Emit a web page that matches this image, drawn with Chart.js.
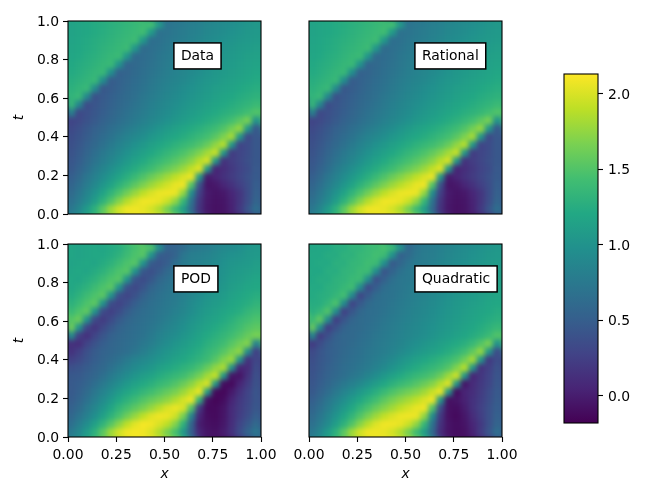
<!DOCTYPE html>
<html><head><meta charset="utf-8">
<script src="https://cdn.jsdelivr.net/npm/chart.js@4"></script>
<style>html,body{margin:0;padding:0;background:#fff;width:664px;height:498px;overflow:hidden}
canvas{position:absolute;left:0;top:0}</style></head><body>
<script>
// Field values in hundredths, rows from t≈1 (top) to t≈0 (bottom), columns x≈0 to x≈1
const dataValues = [
[115,118,120,123,125,128,130,133,136,140,145,110,70,73,76,80,83,87,90,93,96,99,102,105],
[115,118,120,123,126,129,132,135,138,142,108,68,71,74,78,82,85,89,92,95,98,101,104,106],
[116,119,122,125,128,131,134,137,141,105,65,68,72,76,80,84,88,92,95,98,101,104,106,108],
[117,120,123,126,130,133,136,140,103,62,66,70,74,78,82,86,90,94,98,101,104,107,109,111],
[118,121,125,128,132,136,139,102,60,63,67,72,76,80,84,88,92,96,100,103,106,109,112,114],
[120,124,127,131,135,138,100,56,60,64,69,73,78,82,86,90,94,98,102,105,108,111,114,116],
[122,126,130,134,137,97,52,56,61,66,71,75,80,84,88,92,96,100,104,107,110,113,116,119],
[125,129,133,137,95,48,53,58,63,68,73,78,82,86,90,95,99,103,106,110,113,116,119,122],
[128,133,137,93,44,49,54,60,65,70,75,80,85,89,94,98,102,106,110,113,116,120,123,126],
[132,137,91,40,46,51,57,62,67,73,78,83,88,92,97,101,105,109,113,117,120,124,127,130],
[137,89,36,42,48,53,59,64,70,75,81,86,91,96,100,105,109,113,117,121,125,129,133,138],
[88,32,38,44,50,56,62,68,73,78,84,89,94,99,104,109,113,118,122,127,131,136,143,150],
[28,33,40,46,53,59,65,71,76,82,88,93,98,104,109,114,119,124,129,136,144,154,166,100],
[32,38,45,52,58,65,71,77,83,89,95,101,107,113,118,123,128,134,141,150,163,176,105,45],
[35,41,48,56,63,70,77,84,90,96,103,109,115,120,125,131,137,144,153,167,182,105,33,45],
[37,44,52,60,68,76,84,91,98,105,112,118,124,130,136,142,149,159,174,188,105,28,35,45],
[40,47,56,65,74,82,90,98,106,113,120,127,134,141,148,157,168,181,194,105,22,30,36,45],
[42,50,60,70,79,88,97,106,114,122,130,137,145,152,161,172,187,199,105,15,23,30,37,45],
[45,54,65,76,86,96,106,115,124,133,141,150,158,167,178,191,203,105,5,12,20,28,35,46],
[50,60,72,83,94,105,116,127,138,149,160,170,180,190,200,207,105,-2,5,14,22,30,38,47],
[55,66,78,90,103,116,130,143,155,167,178,188,197,205,208,150,40,-5,-3,6,15,25,36,50],
[60,72,86,100,116,132,148,163,177,190,200,206,208,206,175,95,25,-2,-6,-3,6,18,35,52],
[66,78,93,110,130,150,170,187,200,208,208,205,195,175,135,70,18,-3,-7,-5,4,18,36,56],
[73,88,108,130,155,180,198,208,208,205,198,185,165,140,110,60,15,-4,-8,-6,3,20,42,65]
];
// The Rational panel cannot be told apart from the Data panel at this reading resolution
const rationalValues = dataValues;
const podValues = [
[118,116,118,120,118,122,125,135,145,152,150,100,55,55,62,72,75,78,85,90,92,96,102,105],
[118,116,118,120,120,124,130,140,148,152,100,50,48,55,72,80,82,85,90,95,98,100,104,106],
[116,118,120,118,124,130,140,148,152,100,48,42,50,65,76,82,84,88,92,98,102,104,106,110],
[118,120,118,124,130,140,148,152,100,45,38,48,60,68,76,80,85,90,95,100,105,108,110,113],
[120,118,124,130,140,148,152,100,42,35,45,58,66,72,76,82,88,92,96,102,108,110,114,118],
[118,124,130,140,148,154,100,40,32,42,55,64,70,74,80,85,90,96,100,104,110,114,118,120],
[122,130,140,148,154,100,38,30,40,52,62,68,72,76,82,88,94,100,104,108,114,118,122,126],
[128,138,148,155,100,36,28,38,50,60,66,70,74,78,85,92,98,104,108,112,118,122,126,132],
[136,148,156,100,34,25,36,48,58,64,68,72,76,82,88,95,102,108,112,118,122,126,134,140],
[150,160,100,32,22,34,46,56,62,66,70,74,80,86,93,100,106,112,116,122,128,136,142,148],
[165,100,30,18,32,44,54,60,64,68,72,78,85,90,97,104,110,116,122,128,134,142,150,155],
[100,25,14,30,42,52,58,62,66,70,76,84,90,95,102,108,115,122,128,134,142,150,158,165],
[15,12,28,40,50,56,60,64,68,74,80,88,95,102,108,114,120,128,134,142,152,162,170,85],
[14,25,38,48,54,58,62,66,72,80,88,96,102,108,114,120,126,134,142,152,164,174,95,25],
[25,32,42,50,56,62,68,76,84,90,96,102,108,115,120,126,132,140,152,168,178,100,15,30],
[38,42,48,54,60,68,76,84,92,98,104,112,118,124,130,136,146,158,174,184,100,5,10,35],
[45,46,52,58,66,76,85,94,102,110,116,124,130,136,142,152,164,180,192,105,-5,-5,15,38],
[46,50,56,65,75,86,96,106,114,122,128,136,142,150,160,172,188,200,105,-10,-12,5,22,40],
[46,52,62,73,85,96,108,118,126,134,142,150,158,166,178,192,206,110,-12,-14,-2,15,28,42],
[48,56,68,80,93,106,120,130,140,150,158,166,174,185,198,208,130,-8,-15,-10,5,20,30,42],
[52,62,75,88,102,118,133,145,155,165,176,188,200,206,200,150,20,-12,-12,-6,10,22,32,44],
[58,70,82,97,113,130,146,162,176,190,202,208,206,196,165,85,5,-10,-12,-5,10,24,36,50],
[65,80,95,113,132,152,172,190,203,210,208,200,190,170,130,55,0,-8,-10,-4,12,30,45,60],
[75,90,108,130,155,180,198,208,210,208,200,185,165,145,105,50,5,-5,-8,0,15,35,55,72]
];
const quadraticValues = [
[118,120,120,126,126,132,132,138,140,146,140,105,58,70,76,78,82,86,90,93,96,99,102,105],
[120,120,124,124,130,130,136,138,144,140,100,52,62,72,78,80,84,88,92,95,98,101,104,106],
[120,122,122,128,128,134,136,142,140,98,46,58,70,76,78,82,86,90,94,97,100,103,106,108],
[120,120,126,126,132,134,140,140,96,42,55,68,74,76,80,84,88,92,95,99,102,105,108,110],
[120,124,124,130,132,138,140,95,38,52,66,72,74,78,82,86,90,94,97,101,104,107,110,112],
[122,122,128,130,136,142,94,34,50,64,70,72,76,80,84,88,92,96,99,103,106,109,112,115],
[122,126,128,134,144,94,30,48,62,68,70,74,78,82,86,90,94,98,102,105,108,111,115,118],
[124,126,134,148,94,28,46,60,66,68,72,76,80,84,88,92,96,100,104,108,111,114,118,120],
[126,134,150,95,26,44,58,64,66,70,74,78,82,86,90,94,98,102,106,110,114,117,120,124],
[136,156,95,24,42,56,62,64,68,72,76,80,84,88,92,96,100,104,108,112,116,120,124,128],
[162,95,24,40,54,60,62,66,70,74,78,82,86,90,94,98,102,106,110,115,119,124,130,136],
[95,22,38,52,58,60,64,68,72,76,80,84,88,92,96,100,105,109,114,118,124,130,138,150],
[20,36,48,54,58,62,66,70,74,78,82,86,92,97,102,107,112,117,122,128,137,150,166,100],
[32,42,50,54,60,64,68,72,76,80,85,91,97,103,108,113,119,125,132,142,156,176,105,35],
[36,44,50,56,62,66,70,74,79,85,92,99,106,113,119,125,131,138,147,162,182,105,20,35],
[38,45,52,58,64,68,72,77,84,92,100,108,116,123,129,135,142,151,168,188,105,15,25,40],
[40,47,54,60,66,72,78,86,95,105,114,122,129,136,142,149,160,178,196,105,5,18,28,42],
[42,50,58,66,74,82,90,100,110,120,129,137,144,151,160,170,186,202,105,-5,10,20,30,44],
[45,54,64,74,85,95,106,116,127,138,148,156,163,170,180,194,206,105,-10,5,12,22,34,46],
[50,60,72,84,96,108,120,131,143,155,165,174,182,190,200,208,105,-8,-5,3,14,24,36,48],
[55,66,78,92,106,120,134,147,159,170,180,190,198,205,208,150,35,-8,-10,0,14,26,38,50],
[60,72,86,101,117,133,150,165,179,191,200,206,208,206,175,95,20,-8,-12,-4,10,24,38,52],
[66,78,93,111,130,150,171,188,201,208,208,205,195,175,135,70,15,-6,-10,-6,6,20,38,56],
[73,88,108,130,155,180,198,208,208,205,198,185,165,140,110,60,10,-6,-10,-8,4,22,42,65]
];
const xTickValues = [0,0.25,0.5,0.75,1];
const tTickValues = [0,0.2,0.4,0.6,0.8,1];
const barTickValues = [0,0.5,1,1.5,2];
const colorMin = -0.18, colorMax = 2.13;
const viridisStops = ['#440154','#482576','#414487','#35608d','#2a788e','#21908d','#22a884','#42be71','#7ad151','#bddf26','#fde725'];

const rgbStops = viridisStops.map(h=>[1,3,5].map(i=>parseInt(h.substr(i,2),16)));
function viridis(v){
  let f=Math.max(0,Math.min(1,(v-colorMin)/(colorMax-colorMin)))*10;
  const i=Math.min(9,Math.floor(f)); f-=i;
  const a=rgbStops[i],b=rgbStops[i+1];
  return `rgb(${a.map((c,k)=>Math.round(c+(b[k]-c)*f)).join(',')})`;
}
const W=664,H=498,FONT='"DejaVu Sans"',FS=13.9;
function addCanvas(){const c=document.createElement('canvas');c.style.width=W+'px';c.style.height=H+'px';c.width=W;c.height=H;document.body.appendChild(c);return c;}

const smoothCells={id:'smoothCells',afterDatasetsDraw(chart){
  const a=chart.chartArea,r=chart.currentDevicePixelRatio,p=12,w=a.right-a.left,h=a.bottom-a.top;
  const off=document.createElement('canvas');off.width=(w+2*p)*r;off.height=(h+2*p)*r;
  const o=off.getContext('2d');
  o.drawImage(chart.canvas,a.left*r,a.top*r,w*r,h*r,0,0,off.width,off.height);
  o.drawImage(chart.canvas,a.left*r,a.top*r,w*r,h*r,p*r,p*r,w*r,h*r);
  const ctx=chart.ctx;ctx.save();ctx.beginPath();ctx.rect(a.left,a.top,w,h);ctx.clip();
  ctx.filter='blur(2.8px)';
  ctx.drawImage(off,a.left-p,a.top-p,w+2*p,h+2*p);
  ctx.restore();
}};
const frame={id:'frame',afterDraw(chart){
  const a=chart.chartArea,ctx=chart.ctx;ctx.save();ctx.strokeStyle='#000';ctx.lineWidth=1.1;
  ctx.strokeRect(a.left,a.top,a.right-a.left,a.bottom-a.top);ctx.restore();
}};
const panelLabel={id:'panelLabel',afterDraw(chart,args,opts){
  if(!opts.text)return;
  const ctx=chart.ctx,px=chart.scales.x.getPixelForValue(opts.x),py=chart.scales.y.getPixelForValue(opts.t);
  ctx.save();ctx.font=`${FS}px ${FONT}`;
  const tw=ctx.measureText(opts.text).width,pad=7,bh=26;
  ctx.fillStyle='#fff';ctx.strokeStyle='#000';ctx.lineWidth=1.5;
  ctx.fillRect(px-pad,py-bh/2,tw+2*pad,bh);ctx.strokeRect(px-pad,py-bh/2,tw+2*pad,bh);
  ctx.fillStyle='#000';ctx.textAlign='left';ctx.textBaseline='middle';ctx.fillText(opts.text,px,py);
  ctx.restore();
}};
function forced(prop,size){return s=>{s[prop]=size;s.paddingLeft=s.paddingRight=s.paddingTop=s.paddingBottom=0;};}

function panel(name,rows,area,showX,showT){
  const ny=rows.length,nx=rows[0].length,eps=0.003;
  const cells=[],colors=[];
  rows.forEach((row,j)=>row.forEach((v,i)=>{
    const t=ny-1-j;
    cells.push({x:(i+0.5)/nx,y:[t/ny-eps,(t+1)/ny+eps]});colors.push(viridis(v/100));
  }));
  new Chart(addCanvas(),{type:'bar',
    data:{datasets:[{label:name,data:cells,backgroundColor:colors,borderWidth:0,barThickness:10,grouped:false}]},
    options:{responsive:false,animation:false,events:[],devicePixelRatio:1,
      layout:{padding:{left:0,top:area.top,right:W-area.right,bottom:0}},
      plugins:{legend:{display:false},tooltip:{enabled:false},panelLabel:{text:name,x:0.585,t:0.819}},
      scales:{
        x:{type:'linear',min:0,max:1,offset:false,afterBuildTicks:s=>{s.ticks=xTickValues.map(v=>({value:v}));},afterFit:forced('height',H-area.bottom),
          grid:{offset:false,drawOnChartArea:false,drawTicks:showX,tickLength:5,tickColor:'#000',tickWidth:1.1},border:{display:false},
          ticks:{display:showX,autoSkip:false,maxRotation:0,padding:5,color:'#000',font:{family:FONT,size:FS},callback:v=>Number(v).toFixed(2)},
          title:{display:showX,text:'x',color:'#000',font:{family:FONT,size:FS,style:'italic'},padding:{top:15.5,bottom:15.5}}},
        y:{type:'linear',min:0,max:1,afterBuildTicks:s=>{s.ticks=tTickValues.map(v=>({value:v}));},afterFit:forced('width',area.left),
          grid:{drawOnChartArea:false,drawTicks:showT,tickLength:5,tickColor:'#000',tickWidth:1.1},border:{display:false},
          ticks:{display:showT,autoSkip:false,padding:4,labelOffset:1,color:'#000',font:{family:FONT,size:FS},callback:v=>Number(v).toFixed(1)},
          title:{display:showT,text:'t',color:'#000',font:{family:FONT,size:FS,style:'italic'},padding:{top:11.5,bottom:11.5}}}
      }},
    plugins:[smoothCells,frame,panelLabel]});
}
panel('Data',dataValues,{left:68,right:261,top:21,bottom:214},false,true);
panel('Rational',rationalValues,{left:309,right:502,top:21,bottom:214},false,false);
panel('POD',podValues,{left:68,right:261,top:244,bottom:437},true,true);
panel('Quadratic',quadraticValues,{left:309,right:502,top:244,bottom:437},true,false);

// Colour bar
const barArea={left:564,right:598,top:74,bottom:423};
new Chart(addCanvas(),{type:'bar',
  data:{labels:['colour'],datasets:[{data:[[colorMin,colorMax]],borderWidth:0,barPercentage:1,categoryPercentage:1,
    backgroundColor(c){const a=c.chart.chartArea;if(!a)return '#000';
      const g=c.chart.ctx.createLinearGradient(0,a.bottom,0,a.top);
      viridisStops.forEach((h,i)=>g.addColorStop(i/10,h));return g;}}]},
  options:{responsive:false,animation:false,events:[],devicePixelRatio:1,
    layout:{padding:{left:barArea.left,top:barArea.top,right:0,bottom:H-barArea.bottom}},
    plugins:{legend:{display:false},tooltip:{enabled:false}},
    scales:{x:{display:false},
      y:{position:'right',min:colorMin,max:colorMax,afterBuildTicks:s=>{s.ticks=barTickValues.map(v=>({value:v}));},afterFit:forced('width',W-barArea.right),
        grid:{drawOnChartArea:false,tickLength:5,tickColor:'#000',tickWidth:1.1},border:{display:false},
        ticks:{autoSkip:false,padding:5,labelOffset:1.5,color:'#000',font:{family:FONT,size:FS},callback:v=>Number(v).toFixed(1)}}}},
  plugins:[frame]});
</script></body></html>
